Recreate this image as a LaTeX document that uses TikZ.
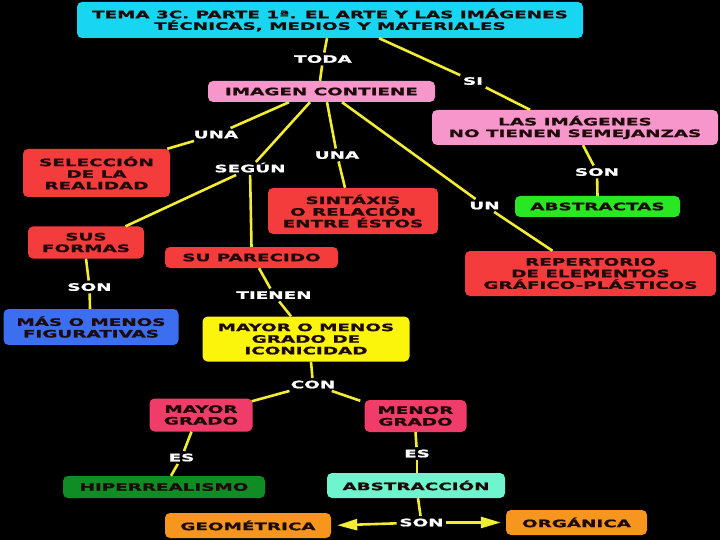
\documentclass[tikz,border=0pt]{standalone}
\usepackage{fontspec}
\newfontfamily\bx[FakeStretch=1.8,FakeBold=1.2]{DejaVu Sans}
\usetikzlibrary{arrows.meta}
\definecolor{ccyan}{RGB}{24,214,242}
\definecolor{cpink}{RGB}{246,150,202}
\definecolor{cred}{RGB}{245,60,60}
\definecolor{cgreen}{RGB}{40,232,35}
\definecolor{cblue}{RGB}{60,110,240}
\definecolor{cyellow}{RGB}{250,245,10}
\definecolor{ccrim}{RGB}{240,60,105}
\definecolor{cdgreen}{RGB}{15,140,35}
\definecolor{caqua}{RGB}{110,245,205}
\definecolor{corange}{RGB}{247,150,30}
\definecolor{cline}{RGB}{242,236,50}
\definecolor{ctxt}{RGB}{30,10,10}
\begin{document}
\begin{tikzpicture}[x=1pt,y=-1pt,
  box/.style={rounded corners=5pt, inner sep=0pt, align=center, text=ctxt,
    font=\bx\bfseries\fontsize{10.2}{11.6}\selectfont},
  lbl/.style={text=white, inner sep=2.5pt, text height=7.5pt, text depth=0pt,
    font=\bx\bfseries\fontsize{10.2}{11.6}\selectfont},
  con/.style={draw=cline, line width=2.6pt},
  tip/.style={-{Triangle[length=20pt,width=11pt]}}]
\fill[black] (0,0) rectangle (720,540);
\useasboundingbox (0,0) rectangle (720,540);

% boxes
\node[box, fill=ccyan, minimum width=506pt, minimum height=36pt] (title) at (330,20)
  {TEMA 3C. PARTE 1ª. EL ARTE Y LAS IMÁGENES\\TÉCNICAS, MEDIOS Y MATERIALES};
\node[box, fill=cpink, minimum width=227pt, minimum height=21pt] (img) at (321.5,91.5) {IMAGEN CONTIENE};
\node[box, fill=cpink, minimum width=286pt, minimum height=35pt] (noseme) at (575,127.5) {LAS IMÁGENES\\NO TIENEN SEMEJANZAS};
\node[box, fill=cred, minimum width=147pt, minimum height=48pt] (selec) at (96.5,173) {SELECCIÓN\\DE LA\\REALIDAD};
\node[box, fill=cred, minimum width=170pt, minimum height=46pt] (sintax) at (353,211) {SINTÁXIS\\O RELACIÓN\\ENTRE ÉSTOS};
\node[box, fill=cgreen, minimum width=165pt, minimum height=21pt] (abstr) at (597.5,206.5) {ABSTRACTAS};
\node[box, fill=cred, minimum width=116pt, minimum height=32pt] (formas) at (86,242.5) {SUS\\FORMAS};
\node[box, fill=cred, minimum width=173pt, minimum height=21pt] (parec) at (251.5,257.5) {SU PARECIDO};
\node[box, fill=cred, minimum width=251pt, minimum height=45pt] (repert) at (590.5,273.5) {REPERTORIO\\DE ELEMENTOS\\GRÁFICO-PLÁSTICOS};
\node[box, fill=cblue, minimum width=175pt, minimum height=36pt] (figur) at (91,327) {MÁS O MENOS\\FIGURATIVAS};
\node[box, fill=cyellow, minimum width=207pt, minimum height=45pt] (icon) at (306,339) {MAYOR O MENOS\\GRADO DE\\ICONICIDAD};
\node[box, fill=ccrim, minimum width=103pt, minimum height=33pt] (mayor) at (201,415) {MAYOR\\GRADO};
\node[box, fill=ccrim, minimum width=102pt, minimum height=32pt] (menor) at (415.5,416) {MENOR\\GRADO};
\node[box, fill=cdgreen, minimum width=202pt, minimum height=22pt] (hiper) at (164,487) {HIPERREALISMO};
\node[box, fill=caqua, minimum width=178pt, minimum height=25pt] (abstrac) at (416,485.5) {ABSTRACCIÓN};
\node[box, fill=corange, minimum width=166pt, minimum height=25pt] (geom) at (248,525.5) {GEOMÉTRICA};
\node[box, fill=corange, minimum width=141pt, minimum height=25pt] (organ) at (576.5,522.5) {ORGÁNICA};

% labels
\node[lbl] (toda) at (323,59) {TODA};
\node[lbl] (si) at (473,81) {SI};
\node[lbl] (una1) at (216,134.5) {UNA};
\node[lbl] (segun) at (250,168.5) {SEGÚN};
\node[lbl] (una2) at (337,155) {UNA};
\node[lbl] (un) at (484.5,205.5) {UN};
\node[lbl] (son1) at (597,172) {SON};
\node[lbl] (son2) at (89.5,287) {SON};
\node[lbl] (tienen) at (274,295) {TIENEN};
\node[lbl] (con) at (313,384.5) {CON};
\node[lbl] (es1) at (181.5,457.5) {ES};
\node[lbl] (es2) at (417,453.5) {ES};
\node[lbl] (son3) at (421.5,522.5) {SON};

% connectors
\draw[con] ([xshift=-3pt]title.south) -- (toda);
\draw[con] (toda) -- ([xshift=-1.5pt]img.north);
\draw[con] ([xshift=49pt]title.south) -- (si);
\draw[con] (si) -- ([xshift=-45pt]noseme.north);
\draw[con] ([xshift=-32.5pt]img.south) -- (una1);
\draw[con] (una1) -- ([xshift=-3pt]selec.north east);
\draw[con] ([xshift=-11.5pt]img.south) -- (segun);
\draw[con] (segun) -- ([xshift=39.5pt]formas.north);
\draw[con] (segun) -- (parec.north);
\draw[con] ([xshift=5.5pt]img.south) -- (una2);
\draw[con] (una2) -- ([xshift=-8pt]sintax.north);
\draw[con] ([xshift=20.5pt]img.south) -- (un);
\draw[con] (un) -- ([xshift=-38pt]repert.north);
\draw[con] ([xshift=8pt]noseme.south) -- (son1);
\draw[con] (son1) -- ([xshift=0pt]abstr.north);
\draw[con] (formas.south) -- (son2);
\draw[con] (son2) -- ([xshift=-1pt]figur.north);
\draw[con] ([xshift=7.5pt]parec.south) -- (tienen);
\draw[con] (tienen) -- ([xshift=-15pt]icon.north);
\draw[con] ([xshift=5pt]icon.south) -- (con);
\draw[con] (con) -- ([xshift=-1pt,yshift=-3pt]mayor.north east);
\draw[con] (con) -- ([xshift=-4pt,yshift=-1pt]menor.north west);
\draw[con] ([xshift=-9.5pt]mayor.south) -- (es1);
\draw[con] (es1) -- ([xshift=7pt]hiper.north);
\draw[con] (menor.south) -- (es2);
\draw[con] (es2) -- ([xshift=1pt]abstrac.north);
\draw[con] ([xshift=2pt]abstrac.south) -- (son3);
\draw[con, tip, shorten >=6pt] (son3) -- (geom.east);
\draw[con, tip, shorten >=5pt] (son3) -- (organ.west);
\end{tikzpicture}
\end{document}
